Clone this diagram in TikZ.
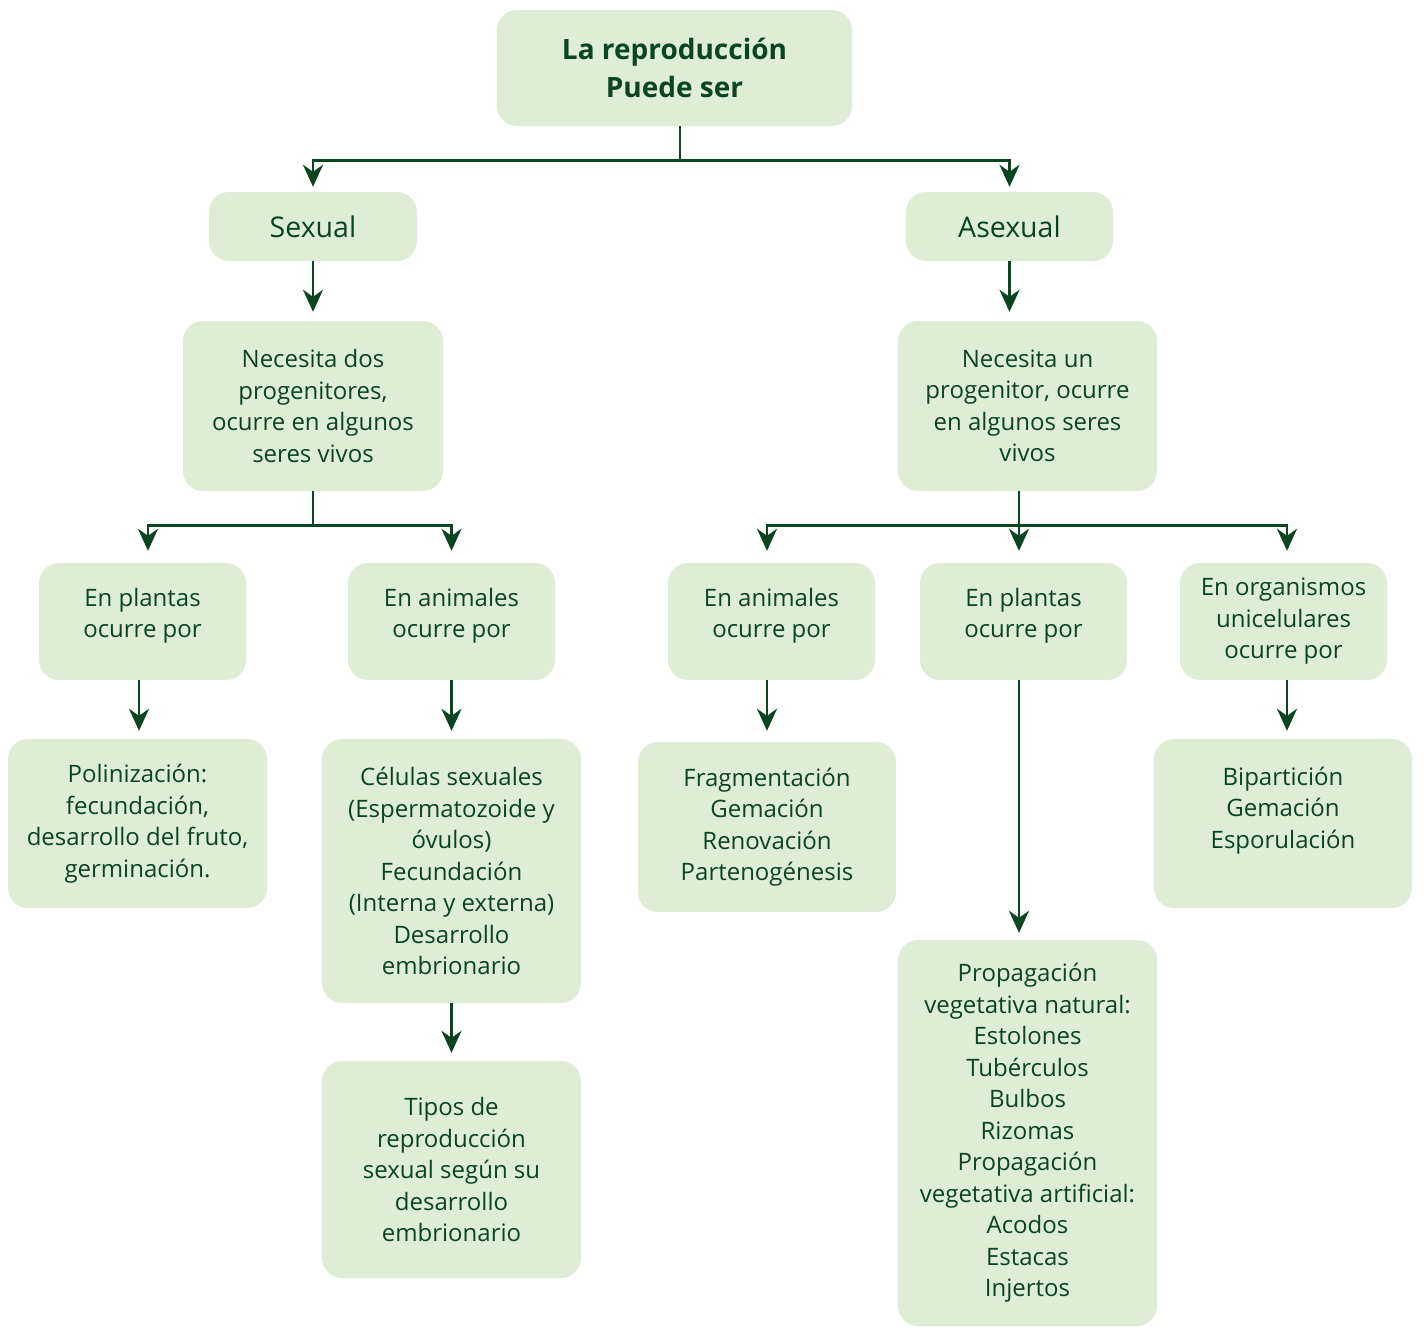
\documentclass[tikz,border=0pt]{standalone}
\usepackage{fontspec}
\setmainfont{Open Sans}
\usetikzlibrary{arrows.meta}
\definecolor{boxfill}{HTML}{DFEDD6}
\definecolor{dkgreen}{HTML}{0A4522}
\tikzset{
  box/.style={fill=boxfill, rounded corners=20pt, inner sep=0pt, align=center,
    text=dkgreen, font=\fontsize{24}{31.5}\selectfont},
  ln/.style={draw=dkgreen, line width=2.6pt},
  arr/.style={ln, -{Stealth[length=22pt,width=20pt,inset=7pt]}},
}
\begin{document}
\begin{tikzpicture}[x=1pt,y=-1pt]
\useasboundingbox (0,0) rectangle (1424,1326);
\node[box, minimum width=355pt, minimum height=116pt, font=\bfseries\fontsize{28}{38}\selectfont] (root) at (674.5,68) {La reproducción\\Puede ser};
\node[box, minimum width=208pt, minimum height=69pt, font=\fontsize{28.5}{31.5}\selectfont] (sexual) at (313,226.5) {Sexual};
\node[box, minimum width=207pt, minimum height=69pt, font=\fontsize{28.5}{31.5}\selectfont] (asexual) at (1009.5,226.5) {Asexual};
\node[box, minimum width=260pt, minimum height=170pt] (nd) at (313,406) {Necesita dos\\progenitores,\\ocurre en algunos\\seres vivos};
\node[box, minimum width=259pt, minimum height=170pt] (nu) at (1027.5,406) {Necesita un\\progenitor, ocurre\\en algunos seres\\vivos};
\node[box, minimum width=207pt, minimum height=117pt] (epl) at (142.5,621.5) {En plantas\\ocurre por\\[-14pt]\mbox{}};
\node[box, minimum width=207pt, minimum height=117pt] (eal) at (451.5,621.5) {En animales\\ocurre por\\[-14pt]\mbox{}};
\node[box, minimum width=207pt, minimum height=117pt] (ear) at (771.5,621.5) {En animales\\ocurre por\\[-14pt]\mbox{}};
\node[box, minimum width=207pt, minimum height=117pt] (epr) at (1023.5,621.5) {En plantas\\ocurre por\\[-14pt]\mbox{}};
\node[box, minimum width=207pt, minimum height=117pt] (eor) at (1283.5,621.5) {En organismos\\unicelulares\\ocurre por};
\node[box, minimum width=259pt, minimum height=169pt] (pol) at (137.5,823.5) {Polinización:\\fecundación,\\desarrollo del fruto,\\germinación.};
\node[box, minimum width=259pt, minimum height=264pt] (cel) at (451.5,871) {Células sexuales\\(Espermatozoide y\\óvulos)\\Fecundación\\(Interna y externa)\\Desarrollo\\embrionario};
\node[box, minimum width=259pt, minimum height=217pt] (tip) at (451.5,1169.5) {Tipos de\\reproducción\\sexual según su\\desarrollo\\embrionario};
\node[box, minimum width=258pt, minimum height=170pt] (fra) at (767,827) {Fragmentación\\Gemación\\Renovación\\Partenogénesis};
\node[box, minimum width=258pt, minimum height=169pt] (bip) at (1283,823.5) {Bipartición\\Gemación\\Esporulación\\ \mbox{}};
\node[box, minimum width=259pt, minimum height=386pt] (pro) at (1027.5,1133) {Propagación\\vegetativa natural:\\Estolones\\Tubérculos\\Bulbos\\Rizomas\\Propagación\\vegetativa artificial:\\Acodos\\Estacas\\Injertos};
% top level
\draw[ln] (root.south -| 680,0) -- ++(0,34) coordinate (j0);
\draw[arr, shorten >=5pt] (j0) -| (sexual.north);
\draw[arr, shorten >=5pt] (j0) -| (asexual.north);
\draw[arr, shorten >=9pt] (sexual.south) -- (nd.north);
\draw[arr, shorten >=9pt] (asexual.south) -- (asexual.south |- nu.north);
% sexual branch
\draw[ln] (nd.south) -- ++(0,34) coordinate (j1);
\draw[arr, shorten >=12pt] (j1) -| (epl.north -| 148,0);
\draw[arr, shorten >=12pt] (j1) -| (eal.north);
\draw[arr, shorten >=8pt] (epl.south -| 139,0) -- (pol.north -| 139,0);
\draw[arr, shorten >=8pt] (eal.south) -- (cel.north);
\draw[arr, shorten >=8pt] (cel.south) -- (tip.north);
% asexual branch
\draw[ln] (nu.south -| 1019,0) -- ++(0,34) coordinate (j2);
\draw[arr, shorten >=12pt] (j2) -| (ear.north -| 767,0);
\draw[arr, shorten >=12pt] (j2) -- (epr.north -| 1019,0);
\draw[arr, shorten >=12pt] (j2) -| (eor.north -| 1287,0);
\draw[arr, shorten >=11pt] (ear.south -| 767,0) -- (fra.north);
\draw[arr, shorten >=7pt] (epr.south -| 1019,0) -- (pro.north -| 1019,0);
\draw[arr, shorten >=8pt] (eor.south -| 1287,0) -- (bip.north -| 1287,0);
\end{tikzpicture}
\end{document}
